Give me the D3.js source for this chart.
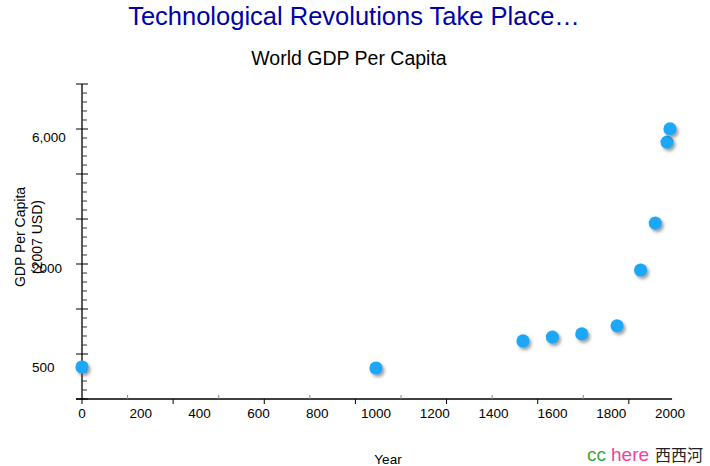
<!DOCTYPE html>
<html>
<head>
<meta charset="utf-8">
<script src="https://cdn.jsdelivr.net/npm/d3@7"></script>
<style>
  html, body { margin: 0; padding: 0; background: #fff; }
  svg { display: block; font-family: "Liberation Sans", Arial, sans-serif; }
</style>
</head>
<body>
<svg id="chart" width="710" height="466"></svg>
<script>
// ---- data ----
const years = [0, 1000, 1500, 1600, 1700, 1820, 1900, 1950, 1990, 2000];
const gdpPerCapita = [500, 493, 720, 760, 795, 890, 1945, 2915, 5750, 6420];
const xTickLabels = [0, 200, 400, 600, 800, 1000, 1200, 1400, 1600, 1800, 2000];
const yTickLabels = [500, 2000, 6000];
const yTickText = ["500", "2000", "6,000"];
const titleText = "Technological Revolutions Take Place…";
const subtitleText = "World GDP Per Capita";

const svg = d3.select("#chart");

// scales
const x = d3.scaleLinear().domain([0, 2000]).range([82, 670]);
const y = d3.scaleLog().domain([320, 500, 2000, 6000, 9360]).range([399, 367, 268, 137, 84]);

// shadow filter
const defs = svg.append("defs");
const f = defs.append("filter").attr("id", "shadow").attr("x", "-50%").attr("y", "-50%").attr("width", "200%").attr("height", "200%");
f.append("feDropShadow").attr("dx", 2).attr("dy", 2.5).attr("stdDeviation", 1.4)
  .attr("flood-color", "#555").attr("flood-opacity", 0.55);

// titles
svg.append("text").attr("x", 354).attr("y", 25).attr("text-anchor", "middle")
  .attr("font-size", 25.5).attr("fill", "#0000a6").text(titleText);
svg.append("text").attr("x", 349).attr("y", 65).attr("text-anchor", "middle")
  .attr("font-size", 19.5).attr("fill", "#000").text(subtitleText);

// x axis
const xStep = 155;
const xTicks = d3.range(0, 13).map(i => i * xStep);
const gx = svg.append("g");
gx.append("line").attr("x1", 76).attr("x2", x(2007)).attr("y1", y(320)).attr("y2", y(320))
  .attr("stroke", "#000").attr("stroke-width", 1.3);
gx.selectAll("line.xt").data(xTicks).join("line").attr("class", "xt")
  .attr("x1", d => x(d)).attr("x2", d => x(d))
  .attr("y1", (d, i) => i % 2 === 0 ? y(320) : y(320) - 4)
  .attr("y2", (d, i) => i % 2 === 0 ? y(320) + 5 : y(320))
  .attr("stroke", (d, i) => i % 2 === 0 ? "#000" : "#888").attr("stroke-width", 1);
gx.selectAll("text").data(xTickLabels).join("text")
  .attr("x", d => x(d)).attr("y", 418).attr("text-anchor", "middle")
  .attr("font-size", 13.5).attr("fill", "#000").text(d => d);

svg.append("text").attr("x", 388).attr("y", 464).attr("text-anchor", "middle")
  .attr("font-size", 13.5).attr("fill", "#000").text("Year");

// y axis
const gy = svg.append("g");
const y0 = y.range()[0], y1 = y.range()[y.range().length - 1];
gy.append("line").attr("x1", 82).attr("x2", 82).attr("y1", y1).attr("y2", y0)
  .attr("stroke", "#000").attr("stroke-width", 1.3);
const nMinor = 35;
const yTickPos = d3.range(0, nMinor + 1).map(i => y0 + (y1 - y0) * i / nMinor);
gy.selectAll("line.yt").data(yTickPos).join("line").attr("class", "yt")
  .attr("x1", (d, i) => i % 5 === 0 ? 76 : 82).attr("x2", (d, i) => i % 5 === 0 ? 88 : 87)
  .attr("y1", d => d).attr("y2", d => d)
  .attr("stroke", (d, i) => i % 5 === 0 ? "#000" : "#333").attr("stroke-width", 1);
gy.selectAll("text").data(yTickLabels).join("text")
  .attr("x", 32).attr("y", d => y(d)).attr("dy", "0.35em")
  .attr("font-size", 13.5).attr("fill", "#000").text((d, i) => yTickText[i]);

// y title
const yt = svg.append("text").attr("transform", "translate(20,237) rotate(-90)")
  .attr("text-anchor", "middle").attr("font-size", 14).attr("fill", "#000");
yt.append("tspan").attr("x", 0).attr("dy", "0.35em").text("GDP Per Capita");
yt.append("tspan").attr("x", 0).attr("dy", "1.2em").text("(2007 USD)");

// points
svg.append("g").selectAll("circle").data(years.map((d, i) => [d, gdpPerCapita[i]])).join("circle")
  .attr("cx", d => x(d[0])).attr("cy", d => y(d[1])).attr("r", 6.6)
  .attr("fill", "#1ea8f6").attr("filter", "url(#shadow)");

// watermark
const wm = svg.append("text").attr("x", 587).attr("y", 461).attr("font-size", 19);
wm.append("tspan").attr("fill", "#3aa83a").text("cc");
wm.append("tspan").attr("fill", "#f0449a").attr("dx", 5).text("here");
wm.append("tspan").attr("fill", "#222").attr("dx", 6).attr("font-family", "Noto Sans CJK SC").attr("font-size", 16).text("西西河");
</script>
</body>
</html>
